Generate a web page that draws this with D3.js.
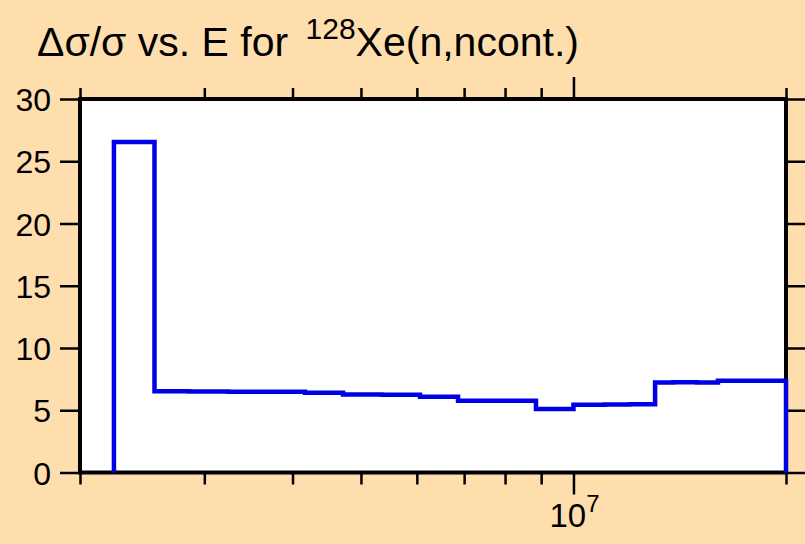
<!DOCTYPE html>
<html>
<head>
<meta charset="utf-8">
<script src="https://cdn.jsdelivr.net/npm/d3@7"></script>
<style>
  html, body { margin: 0; padding: 0; background: #ffdead; }
  svg { display: block; }
  text { font-family: "Liberation Sans", Arial, Helvetica, sans-serif; fill: #000; }
</style>
</head>
<body>
<script>
// ---- data ----
const binEdges = [2.234e6, 2.55e6, 2.854e6, 3.241e6, 4.166e6, 4.716e6, 5.356e6, 6.062e6,
                  6.863e6, 8.849e6, 1.0e7, 1.108e7, 1.2026e7, 1.305e7, 1.384e7, 1.496e7,
                  1.602e7, 2.0e7];
const relUncertainty = [26.55, 6.52, 6.50, 6.49, 6.41, 6.26, 6.24, 6.09, 5.77, 5.10,
                        5.44, 5.46, 5.48, 7.22, 7.25, 7.22, 7.37];
const xDomain = [2e6, 2e7];
const yDomain = [0, 30];
const yTicks = [0, 5, 10, 15, 20, 25, 30];
const xMinorTicks = [2e6, 3e6, 4e6, 5e6, 6e6, 7e6, 8e6, 9e6, 2e7];
const xMajorTicks = [1e7];
const xMajorLabels = [{ base: "10", exp: "7" }];
const titleParts = { pre: "\u0394\u03c3/\u03c3 vs. E for ", sup: "128", post: "Xe(n,ncont.)" };

// ---- layout ----
const W = 805, H = 544;
const pL = 80, pR = 786, pT = 99, pB = 472.5;

const svg = d3.select("body").append("svg").attr("width", W).attr("height", H);
svg.append("rect").attr("width", W).attr("height", H).attr("fill", "#ffdead");

const x = d3.scaleLog().domain(xDomain).range([pL, pR]);
const y = d3.scaleLinear().domain(yDomain).range([pB, pT]);

// plot area
svg.append("rect").attr("x", pL).attr("y", pT)
  .attr("width", pR - pL).attr("height", pB - pT).attr("fill", "#fff");

// axes
const tickW = 2.5;
const gL = svg.append("g").attr("transform", `translate(${pL},0)`)
  .call(d3.axisLeft(y).tickValues(yTicks).tickSize(20).tickPadding(9).tickFormat(d3.format("d")));
const gR = svg.append("g").attr("transform", `translate(${pR},0)`)
  .call(d3.axisRight(y).tickValues(yTicks).tickSize(20).tickFormat(""));
const gBmin = svg.append("g").attr("transform", `translate(0,${pB})`)
  .call(d3.axisBottom(x).tickValues(xMinorTicks).tickSize(12).tickFormat(""));
const gBmaj = svg.append("g").attr("transform", `translate(0,${pB})`)
  .call(d3.axisBottom(x).tickValues(xMajorTicks).tickSize(22).tickFormat(""));
const gTmin = svg.append("g").attr("transform", `translate(0,${pT})`)
  .call(d3.axisTop(x).tickValues(xMinorTicks).tickSize(11).tickFormat(""));
const gTmaj = svg.append("g").attr("transform", `translate(0,${pT})`)
  .call(d3.axisTop(x).tickValues(xMajorTicks).tickSize(22).tickFormat(""));

[gL, gR, gBmin, gBmaj, gTmin, gTmaj].forEach(g => {
  g.select(".domain").remove();
  g.selectAll(".tick line").attr("stroke", "#000").attr("stroke-width", tickW);
});
gL.selectAll(".tick text").attr("font-size", 32).attr("font-family", "Liberation Sans, Arial, sans-serif")
  .attr("fill", "#000").attr("dy", "0.36em");

// x major labels (10^7)
xMajorTicks.forEach((v, i) => {
  const t = svg.append("text").attr("x", x(v) + 1).attr("y", 527)
    .attr("text-anchor", "middle").attr("font-size", 33);
  t.append("tspan").text(xMajorLabels[i].base);
  t.append("tspan").attr("font-size", 24).attr("dy", -15).text(xMajorLabels[i].exp);
});

// frame
svg.append("rect").attr("x", pL).attr("y", pT)
  .attr("width", pR - pL).attr("height", pB - pT)
  .attr("fill", "none").attr("stroke", "#000").attr("stroke-width", 4);

// step line
const pts = [[binEdges[0], 0]];
relUncertainty.forEach((v, i) => {
  pts.push([binEdges[i], v]);
  pts.push([binEdges[i + 1], v]);
});
pts.push([binEdges[binEdges.length - 1], 0]);
const line = d3.line().x(d => x(d[0])).y(d => y(d[1]));
svg.append("path").attr("d", line(pts))
  .attr("fill", "none").attr("stroke", "#0000e6").attr("stroke-width", 4.5)
  .attr("stroke-linejoin", "miter").attr("stroke-linecap", "butt");

// title
const title = svg.append("text").attr("x", 37).attr("y", 56).attr("font-size", 41)
  .attr("xml:space", "preserve");
title.append("tspan").text(titleParts.pre);
title.append("tspan").attr("font-size", 30).attr("dx", 6).attr("dy", -17).text(titleParts.sup);
title.append("tspan").attr("dy", 17).text(titleParts.post);
</script>
</body>
</html>
